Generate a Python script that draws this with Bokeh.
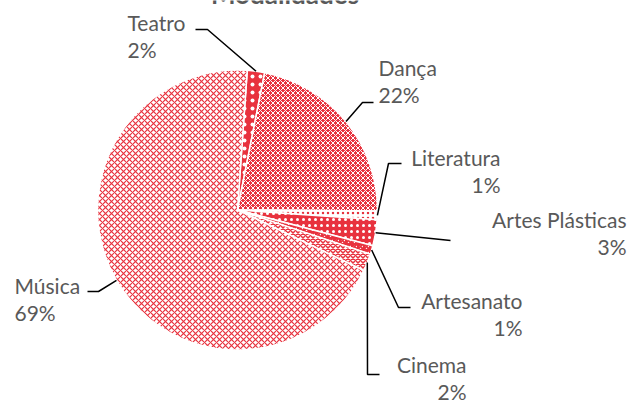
import math
from bokeh.plotting import figure
from bokeh.models import Range1d, ColumnDataSource
from bokeh.core.properties import value
from bokeh.embed import file_html
from bokeh.resources import INLINE

# ---- data ----
categories = ["Teatro", "Dança", "Literatura", "Artes Plásticas", "Artesanato", "Cinema", "Música"]
percent = [2, 22, 1, 3, 1, 2, 69]
pct_labels = ["2%", "22%", "1%", "3%", "1%", "2%", "69%"]
title = "Modalidades"

# ---- styles ----
RED = "#E8323E"
fills = [RED, RED, "white", RED, "white", "white", "white"]
hatch_patterns = ["dot", "diagonal_cross", "dot", "dot", "criss_cross", "diagonal_cross", "diagonal_cross"]
hatch_colors = ["white", "white", RED, "white", RED, RED, RED]
hatch_scales = [8, 5, 5, 6, 6, 5, 6]
hatch_weights = [1.5, 1, 1.5, 1.5, 2, 1.5, 1.2]

W, H = 629, 404
CX, CY, R = 237, H - 209.5, 140
START = 4.0  # first slice angle (deg, clockwise from 12 o'clock)

# label layout (screen coords: x, y of first line, align)
label_layout = {
    "Teatro": (127, 22, "left"),
    "Dança": (378, 67, "left"),
    "Literatura": (500, 157, "right"),
    "Artes Plásticas": (626, 219, "right"),
    "Artesanato": (522, 300, "right"),
    "Cinema": (466, 364, "right"),
    "Música": (14, 285, "left"),
}
LINE_GAP = 27
# leader line bends (screen coords), starting from slice edge midpoint
leader_bends = {
    "Teatro": [(207, 29), (195, 29)],
    "Dança": [(362, 102), (373, 102)],
    "Literatura": [(388, 163), (401, 163)],
    "Artes Plásticas": [(450, 240)],
    "Artesanato": [(398, 307), (410, 307)],
    "Cinema": [(367, 374), (379, 374)],
    "Música": [(98, 291), (87, 291)],
}

p = figure(width=W, height=H, x_range=Range1d(0, W), y_range=Range1d(0, H),
           output_backend="svg", toolbar_location=None, min_border=0)
p.margin = (0, 0, 0, 0)
p.axis.visible = False
p.grid.visible = False
p.outline_line_color = None
p.background_fill_color = "white"
p.border_fill_color = "white"

starts, ends, mids = [], [], []
acc = START
for v in percent:
    t0 = acc
    t1 = acc + v * 3.6
    starts.append(math.radians(90 - t1))
    ends.append(math.radians(90 - t0))
    mids.append((t0 + t1) / 2)
    acc = t1

src = ColumnDataSource(dict(
    start=starts, end=ends, fill=fills, hp=hatch_patterns, hc=hatch_colors,
    hs=hatch_scales, hw=hatch_weights,
))
p.wedge(x=CX, y=CY, radius=R, start_angle="start", end_angle="end",
        fill_color="fill", hatch_pattern="hp", hatch_color="hc",
        hatch_scale="hs", hatch_weight="hw",
        line_color="white", line_width=1.5, source=src)

xs, ys = [], []
for cat, m in zip(categories, mids):
    a = math.radians(m)
    px = CX + R * math.sin(a)
    py = CY + R * math.cos(a)
    lx = [px] + [b[0] for b in leader_bends[cat]]
    ly = [py] + [H - b[1] for b in leader_bends[cat]]
    xs.append(lx)
    ys.append(ly)
p.multi_line(xs, ys, line_color="black", line_width=1.5)

for align in ("left", "right"):
    tx, ty, tt = [], [], []
    for cat, pl in zip(categories, pct_labels):
        x, y, al = label_layout[cat]
        if al != align:
            continue
        tx += [x, x]
        ty += [H - y, H - y - LINE_GAP]
        tt += [cat, pl]
    p.text(x=tx, y=ty, text=tt, text_font=value("Lato"), text_font_size=value("21px"),
           text_color="#595959", text_align=align, text_baseline="middle")

p.text(x=[284.5], y=[H + 7], text=[title], text_font=value("Lato"),
       text_font_size=value("26px"), text_font_style="bold", text_color="#595959",
       text_align="center", text_baseline="alphabetic")

open("out.html", "w").write(file_html(p, INLINE))
